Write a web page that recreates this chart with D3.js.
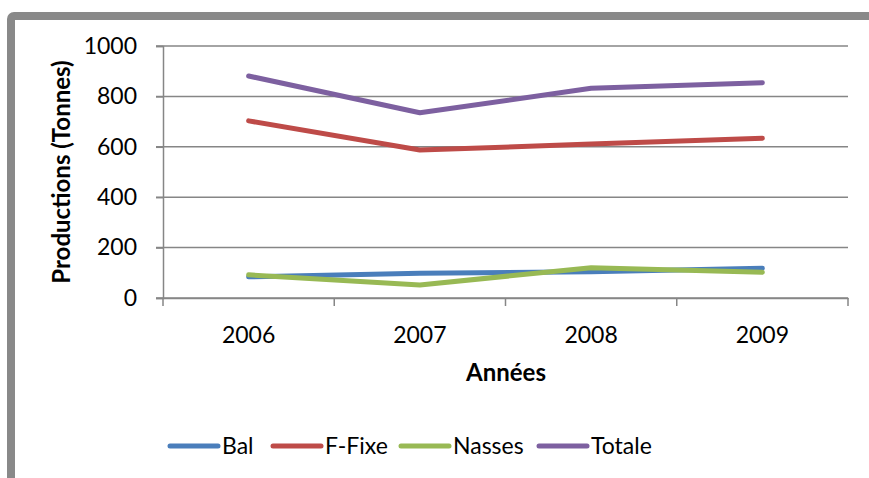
<!DOCTYPE html>
<html>
<head>
<meta charset="utf-8">
<script src="https://cdn.jsdelivr.net/npm/d3@7"></script>
<style>
  body { margin: 0; background: #fff; }
  text { font-family: Lato, "Open Sans", sans-serif; fill: #000; }
</style>
</head>
<body>
<svg class="svg-main" width="869" height="478"></svg>
<script>
const years = ["2006", "2007", "2008", "2009"];
const bal = [84, 98, 104, 118];
const fFixe = [703, 587, 611, 634];
const nasses = [92, 52, 120, 102];
const totale = [881, 735, 832, 854];
const yTicks = [0, 200, 400, 600, 800, 1000];

const series = [
  { name: "Bal", values: bal, color: "#4a7ebb" },
  { name: "F-Fixe", values: fFixe, color: "#be4b48" },
  { name: "Nasses", values: nasses, color: "#98b954" },
  { name: "Totale", values: totale, color: "#7d60a0" }
];

const svg = d3.select(".svg-main");

// frame (only top/left visible)
svg.append("rect")
  .attr("x", 11).attr("y", 16)
  .attr("width", 900).attr("height", 500)
  .attr("rx", 3)
  .attr("fill", "none")
  .attr("stroke", "#898989")
  .attr("stroke-width", 8);

const plotLeft = 163, plotRight = 848, plotTop = 46, plotBottom = 298;

const x = d3.scaleBand().domain(years).range([plotLeft, plotRight]);
const y = d3.scaleLinear().domain([0, 1000]).range([plotBottom, plotTop]);

// gridlines
svg.append("g")
  .selectAll("line")
  .data(yTicks)
  .enter().append("line")
    .attr("x1", plotLeft - 7).attr("x2", plotRight)
    .attr("y1", (d) => y(d)).attr("y2", (d) => y(d))
    .attr("stroke", "#868686")
    .attr("stroke-width", 1.5);

// y axis
const yAxis = svg.append("g")
  .attr("transform", `translate(${plotLeft},0)`)
  .call(d3.axisLeft(y).tickValues(yTicks).tickFormat(d3.format("d")).tickSize(7).tickPadding(19));
yAxis.select(".domain").attr("stroke", "#868686").attr("stroke-width", 1.5);
yAxis.selectAll(".tick line").attr("stroke", "#868686").attr("stroke-width", 1.5);
yAxis.selectAll("text").style("font-size", "23px").attr("fill", "#000");

// x axis
const xAxis = svg.append("g")
  .attr("transform", `translate(0,${plotBottom})`)
  .call(d3.axisBottom(x).tickSize(0).tickPadding(29));
xAxis.select(".domain").attr("stroke", "#868686").attr("stroke-width", 1.5);
xAxis.selectAll("text").style("font-size", "23px").attr("fill", "#000");

// x boundary ticks
const bounds = [plotLeft].concat(years.map((d) => x(d) + x.bandwidth()));
svg.append("g")
  .selectAll("line")
  .data(bounds)
  .enter().append("line")
    .attr("x1", (d) => d).attr("x2", (d) => d)
    .attr("y1", plotBottom).attr("y2", plotBottom + 8)
    .attr("stroke", "#868686")
    .attr("stroke-width", 1.5);

// lines
const line = d3.line()
  .x((d, i) => x(years[i]) + x.bandwidth() / 2)
  .y((d) => y(d));

svg.append("g")
  .selectAll("path")
  .data(series)
  .enter().append("path")
    .attr("d", (d) => line(d.values))
    .attr("fill", "none")
    .attr("stroke", (d) => d.color)
    .attr("stroke-width", 5)
    .attr("stroke-linecap", "round")
    .attr("stroke-linejoin", "round");

// axis titles
svg.append("text")
  .attr("x", 506).attr("y", 381)
  .attr("text-anchor", "middle")
  .style("font-size", "24px")
  .style("font-weight", "bold")
  .text("Années");

svg.append("text")
  .attr("transform", "translate(70,172) rotate(-90)")
  .attr("text-anchor", "middle")
  .style("font-size", "24px")
  .style("font-weight", "bold")
  .text("Productions (Tonnes)");

// legend
const legendX = [170, 273, 401, 539];
const legend = svg.append("g")
  .selectAll("g")
  .data(series)
  .enter().append("g")
    .attr("transform", (d, i) => `translate(${legendX[i]},446)`);
legend.append("line")
  .attr("x1", 0).attr("x2", 48)
  .attr("stroke", (d) => d.color)
  .attr("stroke-width", 5)
  .attr("stroke-linecap", "round");
legend.append("text")
  .attr("x", 52).attr("y", 8)
  .style("font-size", "23px")
  .text((d) => d.name);
</script>
</body>
</html>
